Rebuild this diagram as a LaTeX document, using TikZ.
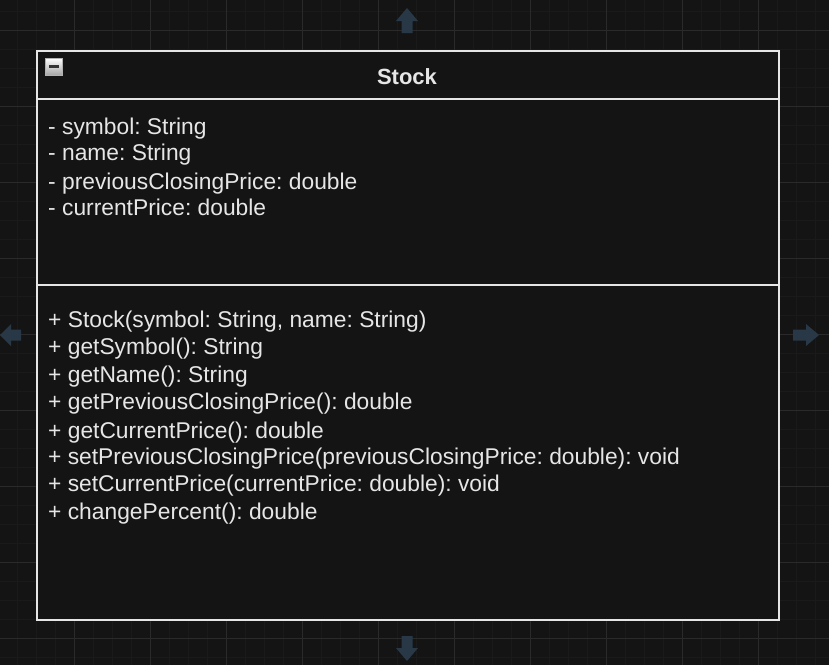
\documentclass[tikz,border=0pt]{standalone}
\usepackage{fontspec}
\setmainfont{Liberation Sans}
\frenchspacing
\definecolor{bg}{HTML}{141414}
\definecolor{minorgrid}{HTML}{1A1A1A}
\definecolor{majorgrid}{HTML}{2A2A2A}
\definecolor{umlline}{HTML}{E6E6E6}
\definecolor{umltext}{HTML}{E6E6E6}
\definecolor{arrowcol}{HTML}{283846}
\tikzset{
  member/.style={anchor=base west, inner sep=0pt, text=umltext, font=\fontsize{22.8}{26}\selectfont},
  title/.style={anchor=base, inner sep=0pt, text=umltext, font=\bfseries\fontsize{22}{26}\selectfont},
  umlbox/.style={draw=umlline, line width=1.8pt},
  hint/.style={fill=arrowcol, draw=none},
}
\begin{document}
\begin{tikzpicture}[x=1pt,y=-1pt]
\useasboundingbox (0,0) rectangle (829,665);
\fill[bg] (0,0) rectangle (829,665);
% minor grid
\foreach \k in {0,...,44} \draw[minorgrid, line width=0.8pt] ({-2+19*\k},0) -- ({-2+19*\k},665);
\foreach \k in {-2,...,33} \draw[minorgrid, line width=0.8pt] (0,{30+19*\k}) -- (829,{30+19*\k});
% major grid
\foreach \k in {0,...,11} \draw[majorgrid, line width=0.8pt] ({-2+76*\k},0) -- ({-2+76*\k},665);
\foreach \k in {0,...,8} \draw[majorgrid, line width=0.8pt] (0,{30+76*\k}) -- (829,{30+76*\k});
% hint arrows
\fill[hint] (401.5,33) -- (401.5,21) -- (396,21) -- (407,8) -- (418,21) -- (412.5,21) -- (412.5,33) -- cycle;
\fill[hint] (401.5,636) -- (401.5,648) -- (396,648) -- (407,661) -- (418,648) -- (412.5,648) -- (412.5,636) -- cycle;
\fill[hint] (21,329.5) -- (11,329.5) -- (11,324) -- (0,335) -- (11,346) -- (11,340.5) -- (21,340.5) -- cycle;
\fill[hint] (793,329.5) -- (806,329.5) -- (806,324) -- (819,335) -- (806,346) -- (806,340.5) -- (793,340.5) -- cycle;
% class box
\fill[bg] (36,50) rectangle (778,619);
\node[inner sep=0pt, minimum width=742pt, minimum height=569pt, umlbox, anchor=north west] (cls) at (36,50) {};
\coordinate (hl) at (36,99); \coordinate (hr) at (778,99);
\coordinate (al) at (36,285); \coordinate (ar) at (778,285);
\draw[umlline, line width=1.8pt] (hl) -- (hr);
\draw[umlline, line width=1.8pt] (al) -- (ar);
% collapse icon
\shade[top color=white, bottom color=gray!70, draw=gray!60] (45,58) rectangle (62,75);
\node[inner sep=0pt, fill=black!80, minimum width=10pt, minimum height=2.2pt] (icon) at (53.5,66.5) {};
% title
\node[title] (t) at (407,84) {Stock};
% attributes
\node[member] (a1) at (48,134) {- symbol: String};
\node[member] (a2) at (48,160) {- name: String};
\node[member] (a3) at (48,189) {- previousClosingPrice: double};
\node[member] (a4) at (48,215) {- currentPrice: double};
% methods
\node[member] (m1) at (48,327) {+ Stock(symbol: String, name: String)};
\node[member] (m2) at (48,354) {+ getSymbol(): String};
\node[member] (m3) at (48,382) {+ getName(): String};
\node[member] (m4) at (48,409) {+ getPreviousClosingPrice(): double};
\node[member] (m5) at (48,438) {+ getCurrentPrice(): double};
\node[member] (m6) at (48,464) {+ setPreviousClosingPrice(previousClosingPrice: double): void};
\node[member] (m7) at (48,491) {+ setCurrentPrice(currentPrice: double): void};
\node[member] (m8) at (48,519) {+ changePercent(): double};
\end{tikzpicture}
\end{document}
